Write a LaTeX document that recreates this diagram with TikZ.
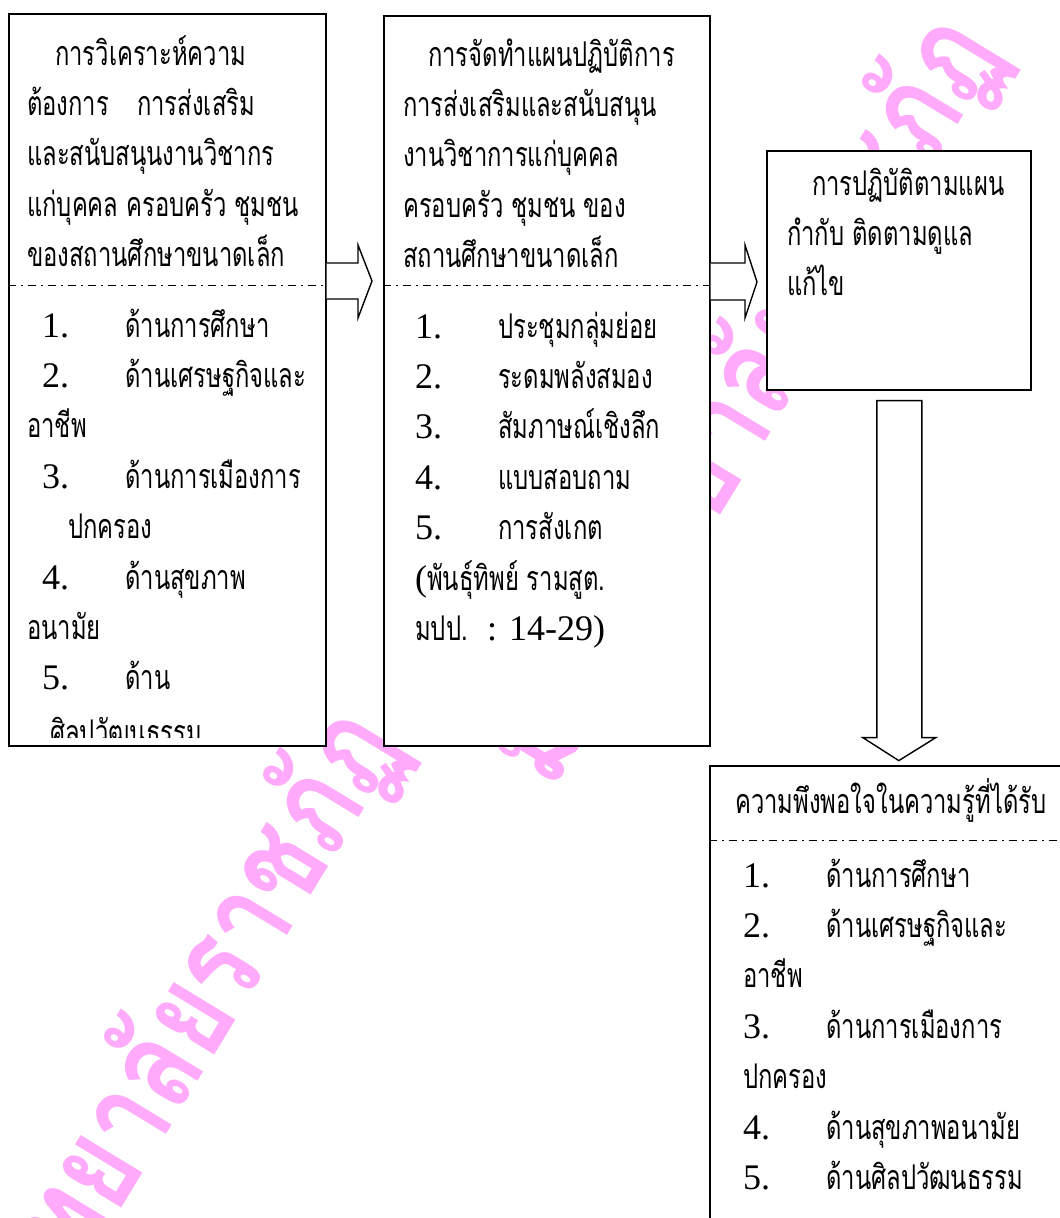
\documentclass[tikz,border=0pt]{standalone}
\usepackage{fontspec}
\setmainfont{Liberation Serif}
\newfontfamily\thaifont[Script=Thai,FakeStretch=0.7]{Loma}
\newfontfamily\wmfont[Script=Thai,FakeStretch=0.78]{Loma}
\usetikzlibrary{calc}
\definecolor{wmpink}{RGB}{255,170,250}
\newcommand\numcol[1]{\makebox[83pt][l]{\rmfamily\fontsize{36}{50.4}\selectfont #1}}

\begin{document}
\begin{tikzpicture}[
    x=1pt, y=-1pt,
    box/.style={%
      draw,
      rectangle,
      line width=1.6pt,
      fill=white,
      anchor=north west,
      inner sep=0pt,
    },
    txt/.style={%
      anchor=base west,
      inner sep=0pt,
      align=left,
      font=\thaifont\fontsize{34}{50.4}\selectfont,
    },
    sep/.style={line width=0.8pt, dash pattern=on 8pt off 5pt on 2pt off 5pt},
    blockarrow/.style={draw, line width=1.4pt, fill=white, line join=miter},
    wmtext/.style={%
      text=wmpink,
      font=\wmfont\bfseries\fontsize{130}{130}\selectfont,
      rotate=58.7,
      anchor=base west,
      inner sep=0pt,
    },
  ]

    \useasboundingbox (0,0) rectangle (1060,1218);
    \clip (0,0) rectangle (1060,1218);

    % watermark behind the boxes
    \node [wmtext] (wm1) at (-47,1485) {มหาวิทยาลัยราชภัฏ};
    \node [wmtext] (wm2) at (552,792) {มหาวิทยาลัยราชภัฏ};

    \node [box, minimum width=317pt, minimum height=732pt] (need) at (8,13) {};
    \node [box, minimum width=326pt, minimum height=730pt] (plan) at (383,15) {};
    \node [box, minimum width=264pt, minimum height=239pt] (act) at (766,150) {};
    \node [box, minimum width=400pt, minimum height=500pt] (result) at (709,765) {};

    \draw [sep] (need.west |- 0,285) -- (need.east |- 0,285);
    \draw [sep] (plan.west |- 0,285) -- (plan.east |- 0,285);
    \draw [sep] (result.west |- 0,840) -- (result.east |- 0,840);

    % box 1 (node placed at the baseline of its last line)
    \node [txt] (needhead) at (27,266.6) {\hspace*{28pt}การวิเคราะห์ความ\\
      \makebox[110pt][l]{ต้องการ}การส่งเสริม\\
      และสนับสนุนงานวิชากร\\
      แก่บุคคล ครอบครัว ชุมชน\\
      ของสถานศึกษาขนาดเล็ก};
    \begin{scope}
      \clip (need.north west) rectangle ([yshift=9pt]need.south east);
      \node [txt] (needlist) at (27,744.8) {\hspace*{15pt}\numcol{1.}ด้านการศึกษา\\
        \hspace*{15pt}\numcol{2.}ด้านเศรษฐกิจและ\\
        อาชีพ\\
        \hspace*{15pt}\numcol{3.}ด้านการเมืองการ\\
        \hspace*{41pt}ปกครอง\\
        \hspace*{15pt}\numcol{4.}ด้านสุขภาพ\\
        อนามัย\\
        \hspace*{15pt}\numcol{5.}ด้าน\\[4.6pt]
        \hspace*{23pt}ศิลปวัฒนธรรม};
    \end{scope}

    % box 2
    \node [txt] (planhead) at (403,267.6) {\hspace*{25pt}การจัดทำแผนปฏิบัติการ\\
      การส่งเสริมและสนับสนุน\\
      งานวิชาการแก่บุคคล\\
      ครอบครัว ชุมชน ของ\\
      สถานศึกษาขนาดเล็ก};
    \node [txt] (planlist) at (415,640.4) {\numcol{1.}ประชุมกลุ่มย่อย\\
      \numcol{2.}ระดมพลังสมอง\\
      \numcol{3.}สัมภาษณ์เชิงลึก\\
      \numcol{4.}แบบสอบถาม\\
      \numcol{5.}การสังเกต\\
      {\rmfamily\fontsize{36}{50.4}\selectfont(}พันธุ์ทิพย์ รามสูต.\\
      \makebox[72pt][l]{มปป.}{\rmfamily\fontsize{36}{50.4}\selectfont : 14-29)}};

    % box 3
    \node [txt] (acthead) at (787,295.8) {\hspace*{25pt}การปฏิบัติตามแผน\\
      กำกับ ติดตามดูแล\\
      แก้ไข};

    % box 4
    \node [txt] (resulthead) at (735,813) {ความพึงพอใจในความรู้ที่ได้รับ};
    \node [txt] (resultlist) at (743,1189.4) {\numcol{1.}ด้านการศึกษา\\
      \numcol{2.}ด้านเศรษฐกิจและ\\
      อาชีพ\\
      \numcol{3.}ด้านการเมืองการ\\
      ปกครอง\\
      \numcol{4.}ด้านสุขภาพอนามัย\\
      \numcol{5.}ด้านศิลปวัฒนธรรม};

    % arrows
    \draw [blockarrow] (need.east |- 0,263) -- (358,263) -- (358,245) -- (372,281)
      -- (358,318) -- (358,299) -- (need.east |- 0,299);
    \draw [blockarrow] (plan.east |- 0,263) -- (745,263) -- (745,245) -- (757,282)
      -- (745,318) -- (745,300) -- (plan.east |- 0,300);
    \draw [blockarrow] (act.south) ++(-22,10) -- ++(45,0) -- ++(0,337) -- ++(14,0)
      -- ++(-37,23) -- ++(-36,-23) -- ++(14,0) -- cycle;
\end{tikzpicture}
\end{document}
